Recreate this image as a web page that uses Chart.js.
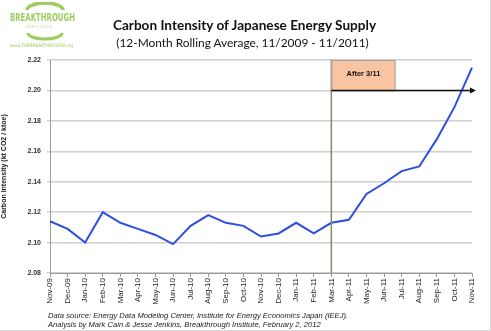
<!DOCTYPE html>
<html lang="en">
<head>
    <meta charset="utf-8"/>
    <title>Carbon Intensity of Japanese Energy Supply</title>
    <script src="https://cdn.jsdelivr.net/npm/chart.js"></script>
    <style>
        html, body { margin: 0; padding: 0; background: #fff; }
        #wrap {
            position: relative;
            width: 491px;
            height: 331px;
            overflow: hidden;
            box-sizing: border-box;
            border-right: 1px solid #d8d8d8;
            border-bottom: 1px solid #d8d8d8;
        }
        #chart { position: absolute; left: 0; top: 0; }
        .title {
            position: absolute; left: 0; width: 491px; text-align: center;
            font-family: Lato, sans-serif; color: #111; white-space: nowrap;
        }
        #t1 { top: 17px; left: -1px; font-size: 13.6px; font-weight: bold; }
        #t2 { top: 35px; left: -3px; font-size: 11.9px; }
        .foot {
            position: absolute; left: 48px;
            font-family: "Liberation Sans", Arial, sans-serif;
            font-style: italic; font-size: 7.6px; color: #222; white-space: nowrap;
        }
        #f1 { top: 311px; }
        #f2 { top: 320px; }
        #logo { position: absolute; left: 6px; top: 2px; width: 74px; height: 50px; }
        .lg { position: absolute; font-family: "DejaVu Sans Condensed", sans-serif; color: #9fcc5e; white-space: nowrap; transform-origin: 0 0; }
        #l1 { left: 4px; top: 9px; font-size: 11px; font-weight: bold; transform: scaleX(0.70); }
        #l2 { left: 20px; top: 23px; font-size: 3.6px; letter-spacing: 1.2px; }
        #l3 { left: 4px; top: 41px; font-size: 4.7px; }
    </style>
</head>
<body>
<div id="wrap">
    <canvas id="chart" width="491" height="331"></canvas>
    <div id="logo">
        <svg width="74" height="50" style="position:absolute;left:0;top:0">
            <path d="M21 8 A18 7 0 0 1 57 8" stroke="#9fcc5e" stroke-width="3.5" fill="none"/>
            <path d="M22 31 A17 6 0 0 0 56 31" stroke="#9fcc5e" stroke-width="3" fill="none"/>
        </svg>
        <div class="lg" id="l1">BREAKTHROUGH</div>
        <div class="lg" id="l2">INSTITUTE</div>
        <div class="lg" id="l3">www.THEBREAKTHROUGH.org</div>
    </div>
    <div class="title" id="t1">Carbon Intensity of Japanese Energy Supply</div>
    <div class="title" id="t2">(12-Month Rolling Average, 11/2009 - 11/2011)</div>
    <div class="foot" id="f1">Data source: Energy Data Modeling Center, Institute for Energy Economics Japan (IEEJ).</div>
    <div class="foot" id="f2">Analysis by Mark Cain &amp; Jesse Jenkins, Breakthrough Institute, February 2, 2012</div>
</div>

<script>
    // months, Nov 2009 - Nov 2011
    const months = ['Nov-09', 'Dec-09', 'Jan-10', 'Feb-10', 'Mar-10', 'Apr-10', 'May-10', 'Jun-10',
        'Jul-10', 'Aug-10', 'Sep-10', 'Oct-10', 'Nov-10', 'Dec-10', 'Jan-11', 'Feb-11', 'Mar-11',
        'Apr-11', 'May-11', 'Jun-11', 'Jul-11', 'Aug-11', 'Sep-11', 'Oct-11', 'Nov-11'];

    // kt CO2 / ktoe
    const intensity = [2.114, 2.109, 2.100, 2.120, 2.113, 2.109, 2.105, 2.099,
        2.111, 2.118, 2.113, 2.111, 2.104, 2.106, 2.113, 2.106, 2.113,
        2.115, 2.132, 2.139, 2.147, 2.150, 2.168, 2.189, 2.215];

    const yMin = 2.08, yMax = 2.22, yStep = 0.02;

    // "After 3/11" marker
    const eventMonth = 'Mar-11';
    const eventLabel = 'After 3/11';
    const boxWidthMonths = 3.65;

    const after311 = {
        id: 'after311',
        afterDatasetsDraw(chart) {
            const {ctx, scales: {x, y}} = chart;
            const i = months.indexOf(eventMonth);
            const x0 = x.getPixelForValue(i);
            const x1 = x.getPixelForValue(i + boxWidthMonths);
            const xe = x.getPixelForValue(months.length - 1) + 2;
            const yTop = y.getPixelForValue(yMax);
            const yMid = y.getPixelForValue(yMax - yStep);
            const yBot = y.getPixelForValue(yMin);
            ctx.save();
            // vertical line
            ctx.strokeStyle = '#7c8c68';
            ctx.lineWidth = 1.5;
            ctx.beginPath();
            ctx.moveTo(x0, yTop);
            ctx.lineTo(x0, yBot);
            ctx.stroke();
            // box
            ctx.fillStyle = '#f8c4a2';
            ctx.fillRect(x0, yTop, x1 - x0, yMid - yTop);
            ctx.strokeStyle = '#a0a0a0';
            ctx.lineWidth = 1;
            ctx.strokeRect(x0 + 0.5, yTop + 0.5, x1 - x0 - 1, yMid - yTop);
            ctx.fillStyle = '#111';
            ctx.font = 'bold 7.5px "Liberation Sans", Arial, sans-serif';
            ctx.textAlign = 'center';
            ctx.textBaseline = 'middle';
            ctx.fillText(eventLabel, (x0 + x1) / 2, (yTop + yMid) / 2 - 1);
            // arrow
            ctx.strokeStyle = '#111';
            ctx.lineWidth = 1.5;
            ctx.beginPath();
            ctx.moveTo(x0, yMid);
            ctx.lineTo(xe - 3, yMid);
            ctx.stroke();
            ctx.fillStyle = '#111';
            ctx.beginPath();
            ctx.moveTo(xe + 2, yMid);
            ctx.lineTo(xe - 4, yMid - 3);
            ctx.lineTo(xe - 4, yMid + 3);
            ctx.closePath();
            ctx.fill();
            ctx.restore();
        }
    };

    new Chart(document.getElementById('chart'), {
        type: 'line',
        data: {
            labels: months,
            datasets: [{
                data: intensity,
                borderColor: '#2c4fe0',
                borderWidth: 2,
                pointRadius: 0,
                tension: 0
            }]
        },
        options: {
            responsive: false,
            animation: false,
            layout: {padding: {top: 60, right: 19, bottom: 0, left: 0}},
            plugins: {legend: {display: false}, tooltip: {enabled: false}},
            scales: {
                x: {
                    offset: false,
                    afterFit(s) { s.height = 58; },
                    grid: {drawOnChartArea: false, drawTicks: true, tickLength: 4, color: '#9a9a9a'},
                    border: {color: '#9a9a9a', width: 1},
                    ticks: {
                        autoSkip: false, minRotation: 90, maxRotation: 90, padding: 1,
                        color: '#222',
                        font: {family: '"Liberation Sans", Arial, sans-serif', size: 8}
                    }
                },
                y: {
                    min: yMin, max: yMax,
                    afterFit(s) { s.width = 50; },
                    grid: {color: '#cfcfcf', lineWidth: 1.5, drawTicks: true, tickLength: 3},
                    border: {color: '#9a9a9a', width: 1},
                    title: {
                        display: true,
                        text: 'Carbon Intensity (kt CO2 / ktoe)',
                        color: '#222',
                        padding: {top: 0, bottom: 6},
                        font: {family: '"Liberation Sans", Arial, sans-serif', size: 7, weight: 'bold'}
                    },
                    ticks: {
                        stepSize: yStep, padding: 6, color: '#333',
                        font: {family: '"Liberation Sans", Arial, sans-serif', size: 7, weight: 'bold'},
                        callback: v => v.toFixed(2)
                    }
                }
            }
        },
        plugins: [after311]
    });
</script>
</body>
</html>
